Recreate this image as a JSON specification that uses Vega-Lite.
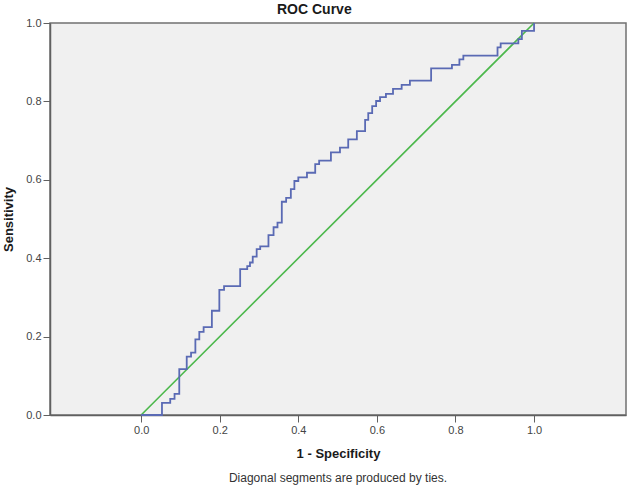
{
  "$schema": "https://vega.github.io/schema/vega-lite/v6.json",
  "background": "white",
  "padding": {"left": 1, "top": 3, "right": 3, "bottom": 3},
  "title": {"text": "ROC Curve", "font": "Liberation Sans", "fontSize": 14, "fontWeight": "bold", "color": "#1a1a1a", "anchor": "middle", "offset": -1},
  "config": {
    "view": {"stroke": "#707070", "strokeWidth": 1.5, "fill": "#f0f0f0"},
    "concat": {"spacing": 0},
    "axis": {
      "grid": false,
      "domainColor": "#606060",
      "domainWidth": 1.5,
      "tickColor": "#606060",
      "tickSize": 7,
      "labelFont": "Liberation Sans",
      "labelFontSize": 11,
      "labelColor": "#444444",
      "labelPadding": 2,
      "titleFont": "Liberation Sans",
      "titleFontSize": 13,
      "titleFontWeight": "bold",
      "titleColor": "#1a1a1a"
    }
  },
  "datasets": {
    "roc": [
      {"fpr": 0.0, "tpr": 0.0},
      {"fpr": 0.053, "tpr": 0.031},
      {"fpr": 0.074, "tpr": 0.041},
      {"fpr": 0.085, "tpr": 0.054},
      {"fpr": 0.097, "tpr": 0.117},
      {"fpr": 0.116, "tpr": 0.149},
      {"fpr": 0.127, "tpr": 0.159},
      {"fpr": 0.138, "tpr": 0.193},
      {"fpr": 0.148, "tpr": 0.212},
      {"fpr": 0.159, "tpr": 0.224},
      {"fpr": 0.18, "tpr": 0.266},
      {"fpr": 0.199, "tpr": 0.319},
      {"fpr": 0.211, "tpr": 0.329},
      {"fpr": 0.252, "tpr": 0.372},
      {"fpr": 0.27, "tpr": 0.38},
      {"fpr": 0.277, "tpr": 0.389},
      {"fpr": 0.284, "tpr": 0.404},
      {"fpr": 0.294, "tpr": 0.423},
      {"fpr": 0.303, "tpr": 0.43},
      {"fpr": 0.324, "tpr": 0.459},
      {"fpr": 0.337, "tpr": 0.479},
      {"fpr": 0.347, "tpr": 0.491},
      {"fpr": 0.358, "tpr": 0.544},
      {"fpr": 0.369, "tpr": 0.554},
      {"fpr": 0.381, "tpr": 0.576},
      {"fpr": 0.39, "tpr": 0.597},
      {"fpr": 0.4, "tpr": 0.606},
      {"fpr": 0.422, "tpr": 0.618},
      {"fpr": 0.443, "tpr": 0.64},
      {"fpr": 0.453, "tpr": 0.649},
      {"fpr": 0.483, "tpr": 0.67},
      {"fpr": 0.506, "tpr": 0.682},
      {"fpr": 0.527, "tpr": 0.703},
      {"fpr": 0.549, "tpr": 0.724},
      {"fpr": 0.57, "tpr": 0.753},
      {"fpr": 0.578, "tpr": 0.77},
      {"fpr": 0.588, "tpr": 0.788},
      {"fpr": 0.598, "tpr": 0.801},
      {"fpr": 0.608, "tpr": 0.811},
      {"fpr": 0.623, "tpr": 0.819},
      {"fpr": 0.641, "tpr": 0.832},
      {"fpr": 0.663, "tpr": 0.842},
      {"fpr": 0.684, "tpr": 0.853},
      {"fpr": 0.738, "tpr": 0.884},
      {"fpr": 0.791, "tpr": 0.893},
      {"fpr": 0.81, "tpr": 0.907},
      {"fpr": 0.82, "tpr": 0.917},
      {"fpr": 0.907, "tpr": 0.938},
      {"fpr": 0.915, "tpr": 0.948},
      {"fpr": 0.96, "tpr": 0.959},
      {"fpr": 0.969, "tpr": 0.98},
      {"fpr": 1.0, "tpr": 1.0}
    ],
    "ref": [
      {"fpr": 0.0, "tpr": 0.0},
      {"fpr": 1.0, "tpr": 1.0}
    ]
  },
  "vconcat": [
    {
      "width": 576,
      "height": 392,
      "title": {"text": "Diagonal segments are produced by ties.", "orient": "bottom", "font": "Liberation Sans", "fontSize": 12, "fontWeight": "normal", "color": "#333333", "anchor": "middle", "offset": 13},
      "layer": [
        {
          "data": {"name": "ref"},
          "mark": {"type": "line", "color": "#4cb84c", "strokeWidth": 1.6},
          "encoding": {
            "x": {"field": "fpr", "type": "quantitative"},
            "y": {"field": "tpr", "type": "quantitative"}
          }
        },
        {
          "data": {"name": "roc"},
          "mark": {"type": "line", "interpolate": "step-after", "color": "#5a6ab4", "strokeWidth": 1.8},
          "encoding": {
            "x": {
              "field": "fpr", "type": "quantitative", "title": "1 - Specificity",
              "scale": {"domain": [-0.232, 1.234], "nice": false, "zero": false},
              "axis": {"values": [0, 0.2, 0.4, 0.6, 0.8, 1.0], "format": ".1f", "titlePadding": 12}
            },
            "y": {
              "field": "tpr", "type": "quantitative", "title": "Sensitivity",
              "scale": {"domain": [0, 1], "nice": false},
              "axis": {"values": [0, 0.2, 0.4, 0.6, 0.8, 1.0], "format": ".1f", "titlePadding": 10}
            }
          }
        }
      ]
    }
  ]
}
